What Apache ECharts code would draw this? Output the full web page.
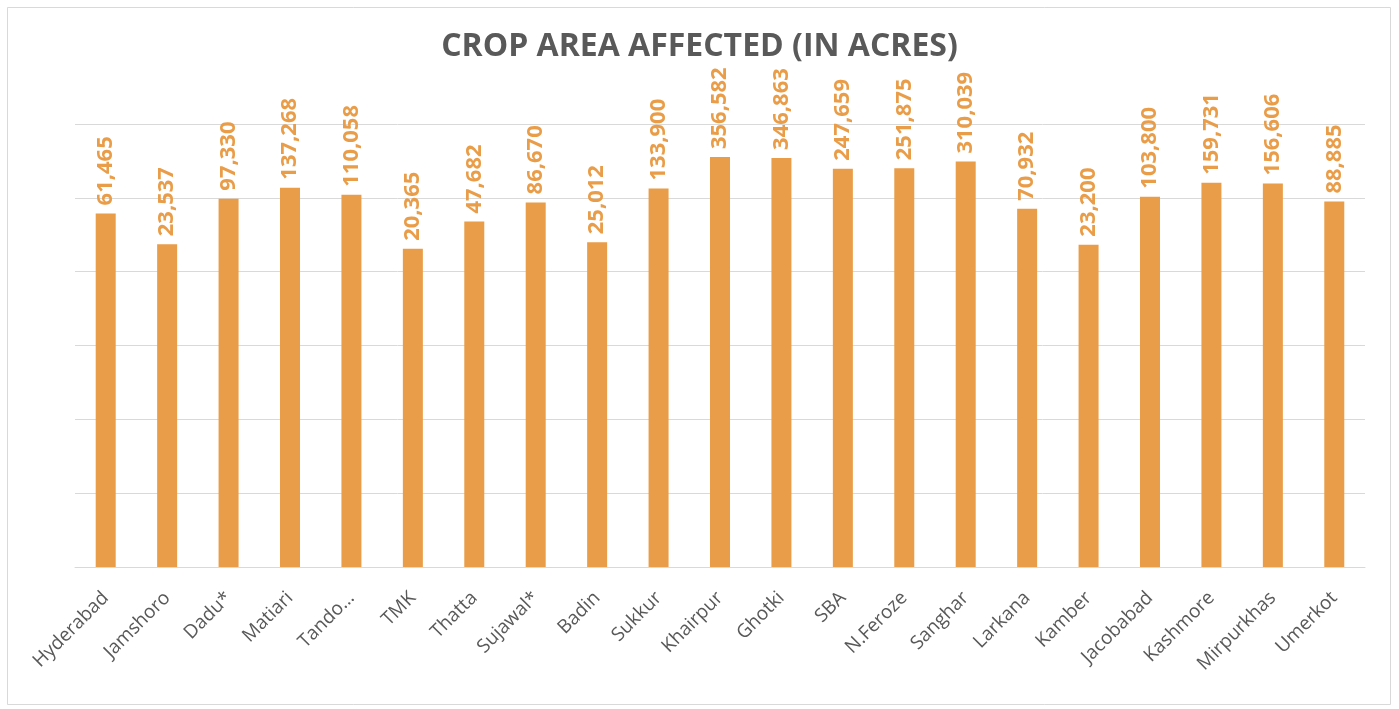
<!DOCTYPE html>
<html>
<head>
<meta charset="utf-8">
<script src="https://cdn.jsdelivr.net/npm/echarts@6/dist/echarts.min.js"></script>
<style>html,body{margin:0;padding:0;background:#fff;}#c{width:1399px;height:709px;}</style>
</head>
<body>
<div id="c"></div>
<script>
const categories = ["Hyderabad","Jamshoro","Dadu*","Matiari","Tando…","TMK","Thatta","Sujawal*","Badin","Sukkur","Khairpur","Ghotki","SBA","N.Feroze","Sanghar","Larkana","Kamber","Jacobabad","Kashmore","Mirpurkhas","Umerkot"];
const cropArea = [61465,23537,97330,137268,110058,20365,47682,86670,25012,133900,356582,346863,247659,251875,310039,70932,23200,103800,159731,156606,88885];
const titleText = "CROP AREA AFFECTED (IN ACRES)";

const chart = echarts.init(document.getElementById('c'));
chart.setOption({
  animation: false,
  backgroundColor: '#fff',
  title: {
    text: titleText, left: 'center', top: 26,
    textStyle: {fontFamily: 'Open Sans', fontWeight: 'bold', fontSize: 32, color: '#595959'}
  },
  graphic: [{type:'rect', shape:{x:7.5,y:7.5,width:1383,height:697}, style:{fill:'none', stroke:'#d9d9d9', lineWidth:1}, silent:true}],
  grid: {left: 75, right: 34, top: 124, bottom: 142, containLabel: false},
  xAxis: {
    type: 'category', data: categories,
    axisLine: {lineStyle: {color: '#d9d9d9', width: 1}},
    axisTick: {show: false},
    axisLabel: {rotate: 45, interval: 0, margin: 28, color: '#595959', fontFamily: 'Open Sans', fontSize: 19}
  },
  yAxis: {
    type: 'log', logBase: 10, min: 1, max: 1000000,
    axisLine: {show: false}, axisTick: {show: false}, axisLabel: {show: false},
    splitLine: {lineStyle: {color: '#d9d9d9', width: 1}}
  },
  series: [{
    type: 'bar', data: cropArea, barWidth: 20,
    itemStyle: {color: '#EA9D48'},
    label: {
      show: true, position: 'top', rotate: 90, align: 'left', verticalAlign: 'middle', distance: 8,
      color: '#EA9D48', fontFamily: 'Open Sans', fontWeight: 'bold', fontSize: 22,
      formatter: p => p.value.toLocaleString('en-US')
    }
  }]
});
</script>
</body>
</html>
